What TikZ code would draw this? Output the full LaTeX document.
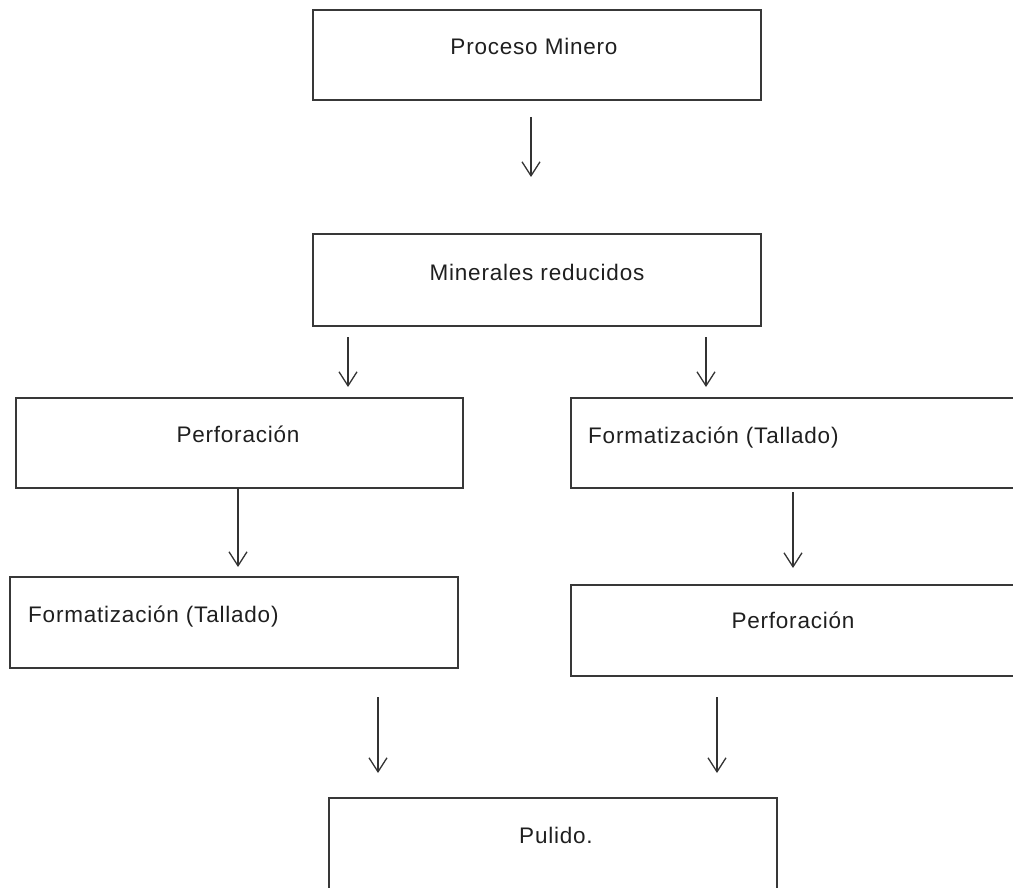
\documentclass[tikz,border=0pt]{standalone}
\usepackage{fontspec}
\setmainfont{Liberation Sans}
\newfontfamily\lblfont[LetterSpace=3.5]{Liberation Sans}
\usetikzlibrary{arrows.meta}
\begin{document}
\begin{tikzpicture}[x=1pt,y=-1pt,
  box/.style={draw=black!78, line width=1.8pt, inner sep=0pt},
  lbl/.style={font=\lblfont\fontsize{22.5}{27}\selectfont, inner sep=0pt, text=black!88},
  arr/.style={draw=black!80, line width=1.3pt,
    -{Straight Barb[length=14pt,width=18pt,line width=1.3pt]}}]
\useasboundingbox (0,0) rectangle (1013,888);
\clip (0,0) rectangle (1013,888);
% boxes
\node[box, minimum width=448pt, minimum height=90pt] (b1) at (537,55) {};
\node[box, minimum width=448pt, minimum height=92pt] (b2) at (537,280) {};
\node[box, minimum width=447pt, minimum height=90pt] (b3l) at (239.5,443) {};
\node[box, minimum width=459pt, minimum height=90pt] (b3r) at (800.5,443) {};
\node[box, minimum width=448pt, minimum height=91pt] (b4l) at (234,622.5) {};
\node[box, minimum width=459pt, minimum height=91pt] (b4r) at (800.5,630.5) {};
\node[box, minimum width=448pt, minimum height=102pt] (b5) at (553,849) {};
% labels
\node[lbl, anchor=base] (t1) at (534,55) {Proceso Minero};
\node[lbl, anchor=base] (t2) at (537,280) {Minerales reducidos};
\node[lbl, anchor=base] (t3l) at (238,442) {Perforación};
\node[lbl, anchor=base west] (t3r) at (588,443) {Formatización (Tallado)};
\node[lbl, anchor=base west] (t4l) at (28,622) {Formatización (Tallado)};
\node[lbl, anchor=base] (t4r) at (793,628) {Perforación};
\node[lbl, anchor=base] (t5) at (556,843) {Pulido.};
% arrow end points
\coordinate (a1s) at (531,117); \coordinate (a1e) at (531,177);
\coordinate (a2ls) at (348,337); \coordinate (a2le) at (348,387);
\coordinate (a2rs) at (706,337); \coordinate (a2re) at (706,387);
\coordinate (a3ls) at (238,488); \coordinate (a3le) at (238,567);
\coordinate (a3rs) at (793,492); \coordinate (a3re) at (793,568);
\coordinate (a4ls) at (378,697); \coordinate (a4le) at (378,773);
\coordinate (a4rs) at (717,697); \coordinate (a4re) at (717,773);
% arrows
\draw[arr] (a1s) -- (a1e);
\draw[arr] (a2ls) -- (a2le);
\draw[arr] (a2rs) -- (a2re);
\draw[arr] (a3ls) -- (a3le);
\draw[arr] (a3rs) -- (a3re);
\draw[arr] (a4ls) -- (a4le);
\draw[arr] (a4rs) -- (a4re);
\end{tikzpicture}
\end{document}
